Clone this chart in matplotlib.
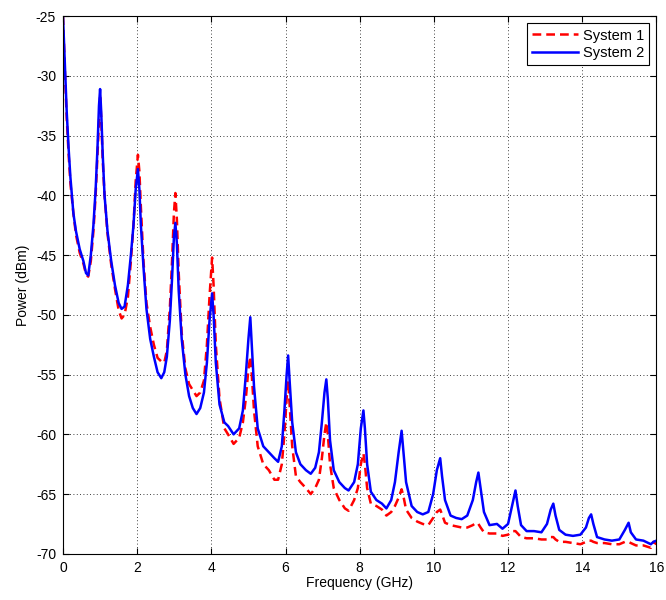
import matplotlib.pyplot as plt
import numpy as np

plt.rcParams['font.family'] = ['Liberation Sans', 'DejaVu Sans']
plt.rcParams['axes.unicode_minus'] = False

# frequency points (GHz) and power (dBm)
freq = [0.00, 0.05, 0.10, 0.15, 0.20, 0.28, 0.35, 0.45, 0.55, 0.62, 0.68, 0.75, 0.82, 0.88,
        0.93, 0.97, 1.00, 1.03, 1.07, 1.12, 1.20, 1.30, 1.40, 1.50, 1.58, 1.66, 1.75, 1.83,
        1.90, 1.96, 2.02, 2.06, 2.10, 2.17, 2.25, 2.35, 2.45, 2.55, 2.65, 2.73, 2.80, 2.88,
        2.94, 2.99, 3.03, 3.07, 3.12, 3.20, 3.30, 3.40, 3.50, 3.60, 3.70, 3.80, 3.88, 3.95,
        4.02, 4.06, 4.12, 4.22, 4.35, 4.45, 4.60, 4.75, 4.85, 4.93, 5.00, 5.05, 5.09, 5.15,
        5.25, 5.40, 5.55, 5.70, 5.80, 5.90, 5.97, 6.03, 6.07, 6.11, 6.18, 6.28, 6.40, 6.55,
        6.68, 6.80, 6.90, 6.98, 7.05, 7.10, 7.14, 7.20, 7.30, 7.45, 7.60, 7.70, 7.85, 7.95,
        8.03, 8.10, 8.14, 8.20, 8.30, 8.45, 8.60, 8.72, 8.85, 8.95, 9.05, 9.13, 9.18, 9.25,
        9.40, 9.55, 9.70, 9.85, 9.98, 10.08, 10.17, 10.22, 10.30, 10.45, 10.60, 10.75, 10.90,
        11.05, 11.14, 11.20, 11.26, 11.35, 11.50, 11.70, 11.85, 12.00, 12.12, 12.20, 12.26,
        12.35, 12.50, 12.70, 12.90, 13.05, 13.15, 13.22, 13.28, 13.38, 13.55, 13.75, 13.95,
        14.10, 14.18, 14.24, 14.30, 14.40, 14.60, 14.80, 15.00, 15.15, 15.25, 15.31, 15.45,
        15.65, 15.85, 15.92, 16.00]

system1 = [-25.0, -29.5, -33.5, -36.5, -39.0, -41.5, -43.3, -44.8, -45.7, -46.6, -46.8, -45.5,
           -43.0, -40.0, -36.5, -33.5, -31.8, -33.5, -37.0, -40.0, -43.2, -45.8, -47.8, -49.6,
           -50.3, -50.0, -48.5, -45.5, -42.5, -38.8, -36.6, -38.0, -41.0, -45.5, -49.0, -51.0,
           -52.5, -53.6, -53.9, -54.0, -53.0, -49.5, -45.5, -41.5, -39.8, -42.0, -46.5, -51.5,
           -54.5, -55.8, -56.3, -56.8, -56.5, -55.5, -52.5, -48.5, -45.2, -47.5, -52.5, -57.0,
           -59.5, -60.0, -60.8, -60.3, -59.0, -57.0, -54.5, -53.5, -55.0, -58.0, -61.0, -62.5,
           -63.0, -63.8, -63.8, -62.5, -60.0, -57.0, -55.5, -57.5, -61.0, -63.5, -64.0, -64.5,
           -65.0, -64.5, -63.8, -62.0, -60.0, -59.0, -60.0, -62.5, -64.5, -65.5, -66.2, -66.4,
           -65.5, -64.5, -62.5, -61.6, -62.5, -64.5, -65.8, -66.0, -66.3, -66.8, -66.5, -66.0,
           -65.3, -64.6, -65.2, -66.3, -67.0, -67.3, -67.5, -67.6, -67.0, -66.5, -66.3, -66.7,
           -67.4, -67.6, -67.7, -67.8, -67.8, -67.6, -67.4, -67.5, -67.8, -68.2, -68.3, -68.3,
           -68.5, -68.4, -68.1, -68.1, -68.3, -68.6, -68.7, -68.7, -68.8, -68.8, -68.6, -68.6,
           -68.8, -69.0, -69.0, -69.1, -69.2, -69.0, -68.9, -68.9, -69.0, -69.1, -69.1, -69.2,
           -69.2, -69.0, -69.0, -69.1, -69.3, -69.3, -69.5, -69.0, -69.2]

system2 = [-25.0, -29.0, -33.0, -36.0, -38.5, -41.5, -43.0, -44.5, -45.5, -46.5, -46.7, -45.0,
           -42.5, -39.5, -36.0, -32.5, -31.1, -33.0, -36.5, -40.0, -43.0, -45.5, -47.5, -49.0,
           -49.5, -49.3, -47.5, -45.0, -42.5, -39.5, -37.8, -39.5, -42.5, -46.0, -49.5, -52.0,
           -53.5, -54.8, -55.3, -54.8, -53.5, -50.5, -47.0, -43.5, -42.3, -44.0, -48.0, -52.0,
           -55.0, -56.8, -57.8, -58.3, -57.8, -56.5, -54.0, -50.5, -48.2, -50.0, -54.0, -57.5,
           -59.0, -59.3, -60.0, -59.5, -58.0, -55.0, -52.0, -50.2, -52.5, -56.0, -59.5, -61.0,
           -61.5, -62.0, -62.3, -61.0, -58.0, -55.0, -53.4, -55.5, -59.0, -61.5, -62.5, -63.0,
           -63.3, -62.8, -61.5, -59.0, -56.5, -55.4, -57.0, -60.5, -63.0, -64.0, -64.5, -64.7,
           -64.0, -62.5, -59.5, -58.0, -59.5, -62.5, -64.8, -65.5, -65.8, -66.2, -65.5, -64.0,
           -61.5, -59.7, -61.5, -64.0, -66.0, -66.5, -66.7, -66.5, -65.0, -63.0, -62.0, -63.5,
           -65.5, -66.8, -67.0, -67.1, -66.8, -65.5, -64.0, -63.2, -64.5, -66.5, -67.6, -67.5,
           -67.9, -67.5, -65.8, -64.7, -66.0, -67.6, -68.1, -68.1, -68.2, -67.5, -66.3, -65.8,
           -66.8, -68.0, -68.4, -68.5, -68.4, -67.8, -67.0, -66.7, -67.5, -68.6, -68.8, -68.9,
           -68.8, -68.0, -67.4, -68.2, -68.8, -68.9, -69.2, -69.0, -68.9]

fig = plt.figure(figsize=(6.66, 6.0), dpi=100)
ax = fig.add_axes([0.0946, 0.077, 0.891, 0.896])

ax.plot(freq, system1, color='#ff0000', linestyle=(0, (3.5, 2)), linewidth=1.8, label='System 1')
ax.plot(freq, system2, color='#0000ff', linestyle='-', linewidth=1.8, label='System 2')

ax.set_xlim(0, 16)
ax.set_ylim(-70, -25)
ax.set_xticks(np.arange(0, 17, 2))
ax.set_yticks(np.arange(-70, -24, 5))
ax.grid(True, linestyle=(0, (1, 3)), color='black', linewidth=0.6)
ax.tick_params(direction='in', top=True, right=True, labelsize=10, length=4, pad=5)
for s in ax.spines.values():
    s.set_linewidth(0.8)

ax.set_xlabel('Frequency (GHz)', fontsize=10, labelpad=1)
ax.set_ylabel('Power (dBm)', fontsize=10, labelpad=4)

leg = ax.legend(loc='upper right', fontsize=10.5, fancybox=False, framealpha=1,
                edgecolor='black', borderaxespad=0.5, handlelength=3.2,
                borderpad=0.35, labelspacing=0.25, handletextpad=0.3)
leg.get_frame().set_linewidth(0.8)

fig.savefig('out.png', dpi=100)
